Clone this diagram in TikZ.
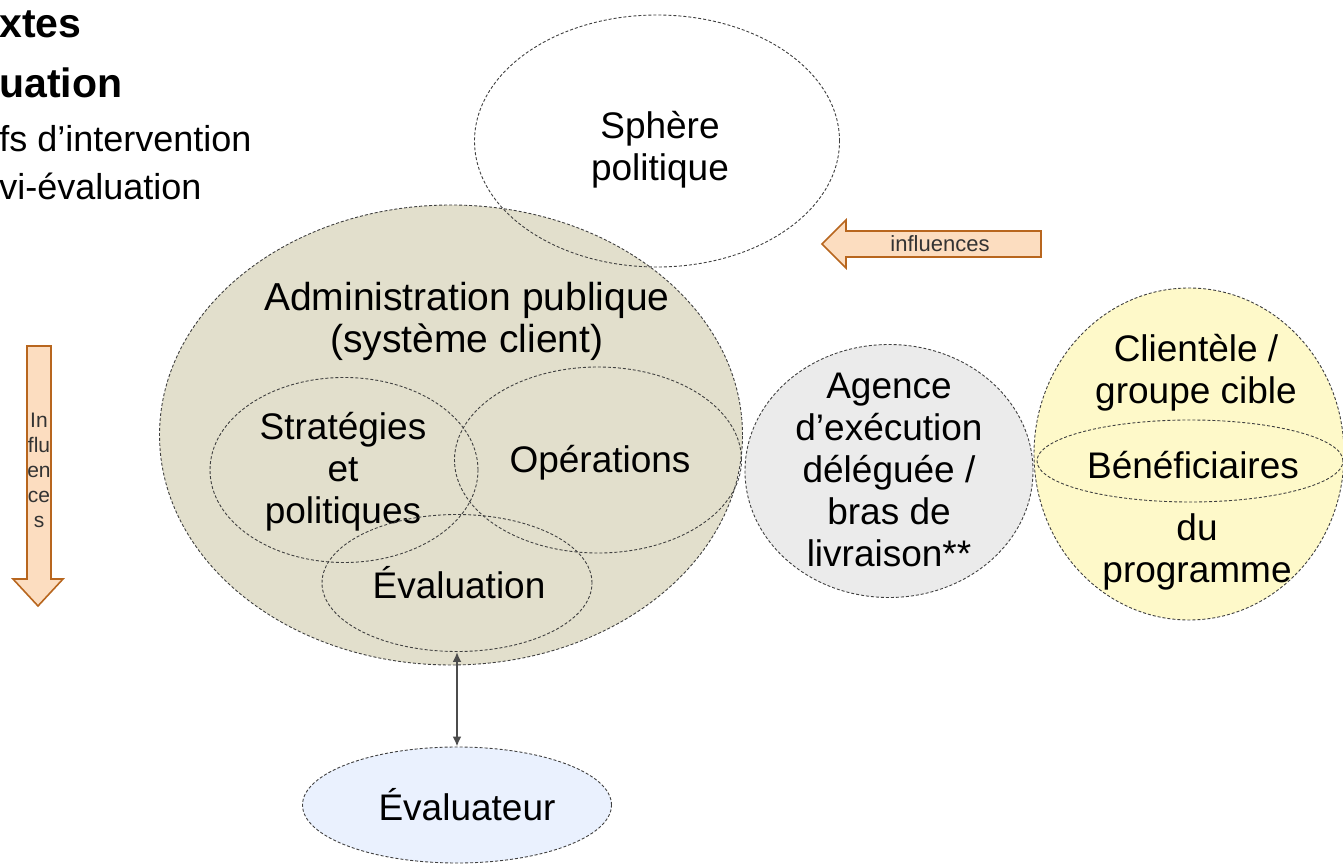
\documentclass[tikz,border=0pt]{standalone}
\usepackage{fontspec}
\setmainfont{Liberation Sans}
\usetikzlibrary{shapes.geometric,arrows.meta}

\definecolor{adminfill}{HTML}{E2DFCC}
\definecolor{agencefill}{HTML}{EBEBEB}
\definecolor{clientfill}{HTML}{FEF9C9}
\definecolor{evalfill}{HTML}{EAF1FE}
\definecolor{peach}{HTML}{FCDDC0}
\definecolor{rust}{HTML}{B8661E}

\begin{document}
\begin{tikzpicture}[
    x=0.5pt,
    y=-0.5pt,
    zone/.style={ellipse, draw=black!75, dash pattern=on 1.5pt off 1pt, line width=0.45pt, inner sep=0pt},
    txt/.style={align=center, inner sep=0pt, font=\fontsize{18.5}{21}\selectfont},
    blk/.style={fill=peach, draw=rust, line width=0.8pt, line join=miter},
    small/.style={align=center, inner sep=0pt, text=black!80},
    link/.style={{Latex[length=5pt,width=4.5pt]}-{Latex[length=5pt,width=4.5pt]}, line width=1pt, black!70},
  ]
  \useasboundingbox[fill=white] (0,0) rectangle (1343,865);

  % heading (runs off the left edge)
  \node[anchor=base west, inner sep=0pt, font=\fontsize{20.5}{30}\selectfont\bfseries] (head1) at (-1,38) {xtes};
  \node[anchor=base west, inner sep=0pt, font=\fontsize{20.5}{30}\selectfont\bfseries] (head2) at (-1,98) {uation};
  \node[anchor=base west, inner sep=0pt, font=\fontsize{18}{24}\selectfont] (sub1) at (-1,152) {fs d’intervention};
  \node[anchor=base west, inner sep=0pt, font=\fontsize{18}{24}\selectfont] (sub2) at (-1,200) {vi-évaluation};

  % public administration and its parts
  \node[zone, fill=adminfill, minimum width=291.5pt, minimum height=230pt] (admin) at (451,435) {};
  \node[txt, font=\fontsize{19.5}{21}\selectfont] (admintxt) at (467,321) {Administration publique\\(système client)};
  \node[zone, minimum width=134pt, minimum height=92.5pt] (strat) at (344,470) {};
  \node[txt] (strattxt) at (343,472) {Stratégies\\et\\politiques};
  \node[zone, minimum width=143.5pt, minimum height=93pt] (oper) at (598,460) {};
  \node[txt] (opertxt) at (600,463) {Opérations};
  \node[zone, minimum width=135pt, minimum height=68.5pt] (evaluation) at (457,583) {};
  \node[txt] (evaltxt) at (459,583) {Évaluation};

  \node[zone, minimum width=182.5pt, minimum height=126pt] (sphere) at (657,141) {};
  \node[txt] (spheretxt) at (660,150) {Sphère\\politique};

  \node[zone, fill=agencefill, minimum width=144pt, minimum height=126.5pt] (agence) at (889,471) {};
  \node[txt] (agencetxt) at (889,470) {Agence\\d’exécution\\déléguée /\\bras de\\livraison**};

  \node[zone, fill=clientfill, minimum width=155pt, minimum height=166pt] (client) at (1189,454) {};
  \node[zone, minimum width=153pt, minimum height=41pt] (benef) at (1190,461) {};
  \node[txt] (clienttxt) at (1196,373) {Clientèle /\\groupe cible};
  \node[txt] (beneftxt) at (1193,465) {Bénéficiaires};
  \node[txt] (progtxt) at (1197,552) {du\\programme};

  \node[zone, fill=evalfill, minimum width=154.5pt, minimum height=58pt] (evaluateur) at (457,805) {};
  \node[txt] (evaluateurtxt) at (467,805) {Évaluateur};

  \draw[link] (evaluation.south) -- (evaluateur.north);

  % block arrows
  \draw[blk] (1041,231) -- (846,231) -- (846,220) -- (822,244) -- (846,268) -- (846,257) -- (1041,257) -- cycle;
  \node[small, font=\fontsize{11}{13}\selectfont] (inflh) at (940,244) {influences};
  \draw[blk] (27,346) -- (51,346) -- (51,579) -- (63,579) -- (38,606) -- (13,579) -- (27,579) -- cycle;
  \node[small, font=\fontsize{10.5}{12.5}\selectfont] (inflv) at (39,470) {In\\flu\\en\\ce\\s};
\end{tikzpicture}
\end{document}
